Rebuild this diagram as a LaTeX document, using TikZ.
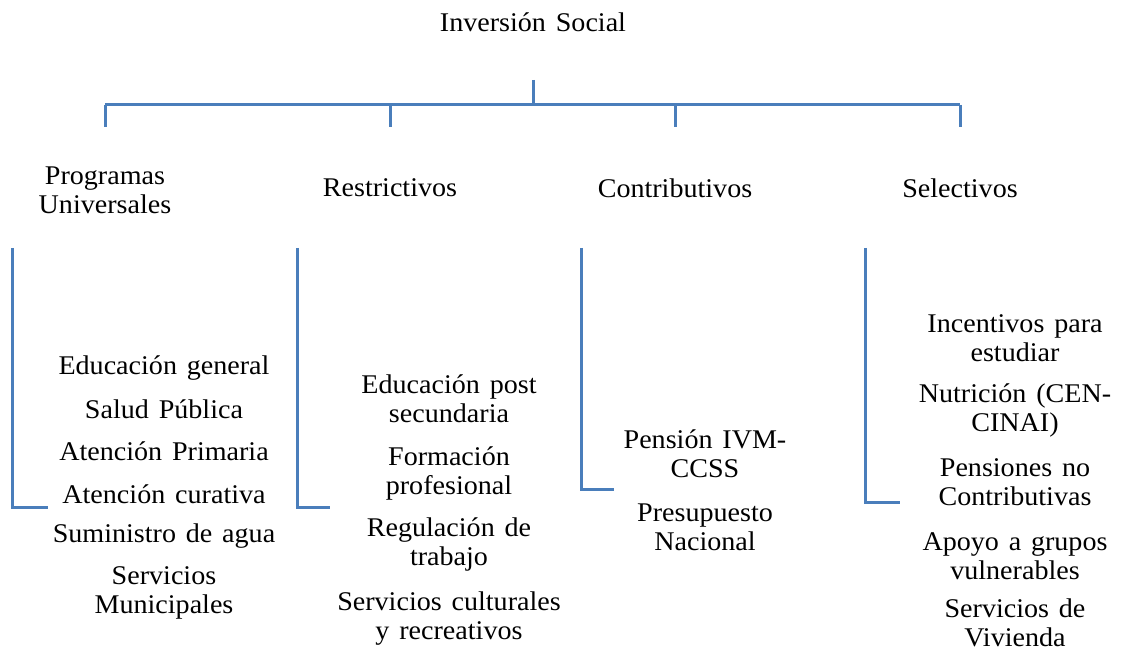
\documentclass[tikz,border=0pt]{standalone}
\usepackage{fontspec}
\setmainfont{LiberationSerif}[Extension=.ttf,UprightFont=*-Regular,BoldFont=*-Bold,ItalicFont=*-Italic,FakeStretch=1.04,WordSpace=1.4]
\definecolor{linkblue}{HTML}{4A7EBB}
\begin{document}
\begin{tikzpicture}[x=1pt,y=-1pt,
  lbl/.style={inner sep=0pt, align=center, font=\fontsize{27}{29}\selectfont},
  link/.style={draw=linkblue, line width=3pt}]
\useasboundingbox (0,0) rectangle (1122,652);
% root
\node[lbl] (root) at (533,22) {Inversión Social};
\coordinate (rs) at (533,80);
\coordinate (rj) at (533,105);
% categories
\node[lbl] (c1) at (105,190) {Programas\\Universales};
\node[lbl] (c2) at (390,188) {Restrictivos};
\node[lbl] (c3) at (675,188) {Contributivos};
\node[lbl] (c4) at (960,188) {Selectivos};
\foreach \i/\x in {1/105,2/390,3/675,4/960}{
  \coordinate (t\i) at (\x,105);
  \coordinate (e\i) at (\x,127);
}
\draw[link] (rs) -- (rj);
\draw[link] (t1) -- (t4);
\foreach \i in {1,...,4}{\draw[link] (t\i) -- (e\i);}
% brackets
\coordinate (b1t) at (12,248);  \coordinate (b1b) at (12,507);  \coordinate (b1e) at (48,507);
\coordinate (b2t) at (297,248); \coordinate (b2b) at (297,507); \coordinate (b2e) at (330,507);
\coordinate (b3t) at (581,248); \coordinate (b3b) at (581,489); \coordinate (b3e) at (614,489);
\coordinate (b4t) at (865,248); \coordinate (b4b) at (865,502); \coordinate (b4e) at (900,502);
\foreach \i in {1,...,4}{\draw[link] (b\i t) -- (b\i b) -- (b\i e);}
% column 1
\node[lbl] (a1) at (164,368) {Educación general};
\node[lbl] (a2) at (164,409) {Salud Pública};
\node[lbl] (a3) at (164,451) {Atención Primaria};
\node[lbl] (a4) at (164,494) {Atención curativa};
\node[lbl] (a5) at (164,536) {Suministro de agua};
\node[lbl] (a6) at (164,593) {Servicios\\Municipales};
% column 2
\node[lbl] (r1) at (449,399) {Educación post\\secundaria};
\node[lbl] (r2) at (449,473) {Formación\\profesional};
\node[lbl] (r3) at (449,544) {Regulación de\\trabajo};
\node[lbl] (r4) at (449,619) {Servicios culturales\\y recreativos};
% column 3
\node[lbl] (p1) at (705,454) {Pensión IVM-\\CCSS};
\node[lbl] (p2) at (705,527) {Presupuesto\\Nacional};
% column 4
\node[lbl] (s1) at (1015,338) {Incentivos para\\estudiar};
\node[lbl] (s2) at (1015,410) {Nutrición (CEN-\\CINAI)};
\node[lbl] (s3) at (1015,482) {Pensiones no\\Contributivas};
\node[lbl] (s4) at (1015,556) {Apoyo a grupos\\vulnerables};
\node[lbl] (s5) at (1015,623) {Servicios de\\Vivienda};
\end{tikzpicture}
\end{document}
